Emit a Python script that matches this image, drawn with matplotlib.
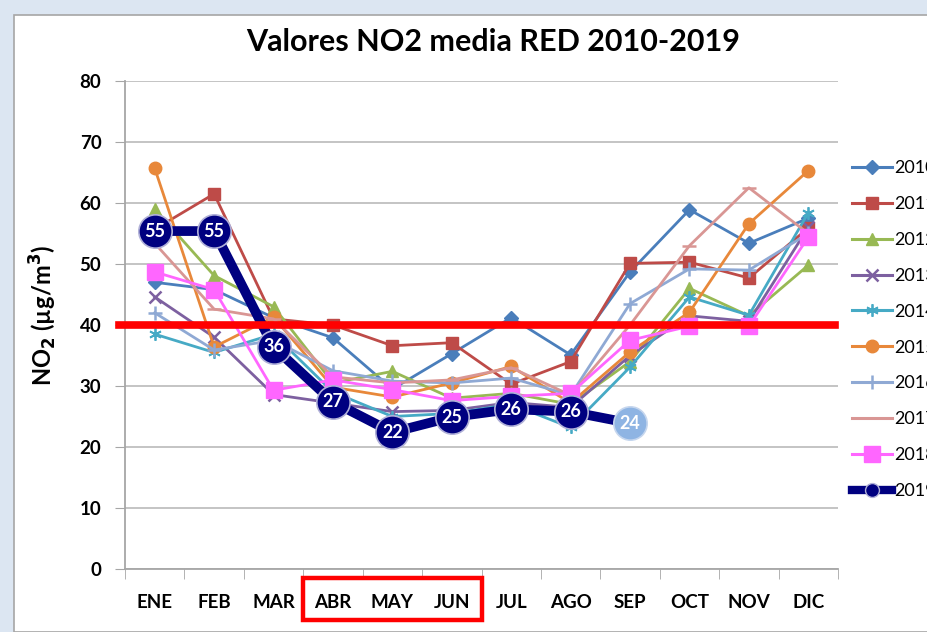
import matplotlib
matplotlib.use('Agg')
import matplotlib.pyplot as plt
from matplotlib.patches import Rectangle
from matplotlib.lines import Line2D

plt.rcParams['font.family'] = ['Lato', 'DejaVu Sans']

meses = ['ENE', 'FEB', 'MAR', 'ABR', 'MAY', 'JUN', 'JUL', 'AGO', 'SEP', 'OCT', 'NOV', 'DIC']

v2010 = [47.0, 45.8, 41.2, 37.9, 29.5, 35.3, 41.2, 35.1, 48.7, 58.9, 53.4, 57.5]
v2011 = [55.7, 61.5, 41.0, 40.0, 36.6, 37.1, 30.3, 34.0, 50.1, 50.3, 47.7, 55.9]
v2012 = [59.0, 48.1, 43.0, 30.5, 32.4, 28.0, 28.8, 27.0, 34.0, 46.0, 41.5, 49.8]
v2013 = [44.6, 38.0, 28.6, 27.2, 25.8, 26.0, 27.3, 26.5, 35.0, 41.5, 40.6, 56.0]
v2014 = [38.5, 35.5, 38.5, 29.0, 25.0, 25.5, 27.0, 23.2, 33.1, 44.6, 41.6, 58.4]
v2015 = [65.7, 36.4, 41.3, 29.8, 28.2, 30.5, 33.2, 27.2, 35.6, 42.1, 56.6, 65.3]
v2016 = [42.0, 35.9, 37.5, 32.5, 30.8, 30.5, 31.3, 28.5, 43.5, 49.2, 49.0, 55.0]
v2017 = [53.4, 42.6, 41.0, 31.5, 30.5, 31.0, 33.0, 28.5, 40.0, 53.0, 62.5, 55.0]
v2018 = [48.7, 45.8, 29.3, 31.0, 29.4, 27.6, 28.3, 28.8, 37.5, 39.8, 39.8, 54.4]
v2019 = [55.4, 55.4, 36.4, 27.4, 22.4, 24.9, 26.2, 25.8, 23.9]

limite = 40

# (label, values, color, marker, markersize)
series = [
    ('2010', v2010, '#4a7ebb', 'D', 7),
    ('2011', v2011, '#be4b48', 's', 9),
    ('2012', v2012, '#98b954', '^', 9),
    ('2013', v2013, '#7d60a0', 'x', 9),
    ('2014', v2014, '#46aac5', '*', 0),
    ('2015', v2015, '#e8883a', 'o', 9),
    ('2016', v2016, '#8fa9d4', '+', 10),
    ('2017', v2017, '#d99694', '_', 10),
    ('2018', v2018, '#ff66ff', 's', 12),
]

fig = plt.figure(figsize=(9.27, 6.32), dpi=100)
fig.patch.set_facecolor('#dce6f2')
fig.patches.append(Rectangle((14 / 927, 0), 1, 1 - 15 / 632, transform=fig.transFigure,
                             facecolor='white', edgecolor='#a6a6a6', linewidth=1.2, zorder=-10))

ax = fig.add_axes([125 / 927, 1 - 569 / 632, 713 / 927, 488 / 632])
ax.set_facecolor('none')

x = list(range(len(meses)))
handles = []
for label, vals, color, marker, ms in series:
    if marker == '*':
        ax.plot(x, vals, color=color, linewidth=2, marker=(6, 2, 0), markersize=9,
                markeredgewidth=1.3, zorder=3)
        h = Line2D([], [], color=color, linewidth=2.2, marker=(6, 2, 0), markersize=9, markeredgewidth=1.3)
    else:
        ax.plot(x, vals, color=color, linewidth=2, marker=marker, markersize=ms,
                markeredgewidth=1.8 if marker in ('x', '+', '_') else 1, zorder=3)
        h = Line2D([], [], color=color, linewidth=2.2, marker=marker, markersize=ms,
                   markeredgewidth=1.8 if marker in ('x', '+', '_') else 1)
    handles.append((h, label))

# 2019
x19 = x[:len(v2019)]
ax.plot(x19, v2019, color='#000080', linewidth=7, solid_capstyle='round', zorder=5)
ax.plot(x19[:-1], v2019[:-1], linestyle='none', marker='o', markersize=24,
        markerfacecolor='#000080', markeredgecolor='#b0b0d8', markeredgewidth=1.2, zorder=6)
ax.plot(x19[-1:], v2019[-1:], linestyle='none', marker='o', markersize=24,
        markerfacecolor='#8eb4e3', markeredgecolor='#c5d6ee', markeredgewidth=1.2, zorder=6)
for xi, v in zip(x19, v2019):
    ax.text(xi, v, '%d' % round(v), color='white', fontsize=13, fontweight='bold',
            ha='center', va='center', zorder=7)
handles.append((Line2D([], [], color='#000080', linewidth=6, marker='o', markersize=10,
                       markerfacecolor='#000080', markeredgecolor='#b0b0d8'), '2019'))

# 40 limit line
ax.plot([-0.6, 11.45], [limite, limite], color='#ff0000', linewidth=5.5, zorder=8, clip_on=False)

# red box around ABR-JUN
ax.add_patch(Rectangle((2.5, -8.4), 3.0, 6.9, fill=False, edgecolor='#ff0000',
                       linewidth=3.2, clip_on=False, zorder=8))

ax.set_xlim(-0.5, 11.5)
ax.set_ylim(0, 80)
ax.set_yticks(range(0, 81, 10))
ax.set_xticks(x)
ax.set_xticklabels(meses, fontsize=13.5, fontweight='bold')
ax.set_xticks([i - 0.5 for i in range(13)], minor=True)
ax.tick_params(axis='x', which='major', length=0, pad=18)
ax.tick_params(axis='x', which='minor', length=7, color='#a6a6a6', direction='out')
ax.tick_params(axis='y', length=7, color='#a6a6a6', pad=10, labelsize=13.5)
for t in ax.get_yticklabels():
    t.set_fontweight('bold')

ax.grid(axis='y', color='#bfbfbf', linewidth=1.3)
ax.set_axisbelow(True)
for s in ['top', 'right']:
    ax.spines[s].set_visible(False)
for s in ['left', 'bottom']:
    ax.spines[s].set_color('#a6a6a6')
    ax.spines[s].set_linewidth(1.3)

ax.set_ylabel('NO$_\\mathbf{2}$ (µg/m$^\\mathbf{3}$)', fontsize=17, fontweight='bold')
ax.yaxis.set_label_coords(-0.092, 0.52)

fig.text(493 / 927, 1 - 42 / 632, 'Valores NO2 media RED 2010-2019', fontsize=22,
         fontweight='bold', ha='center', va='center')

fig.legend([h for h, _ in handles], [l for _, l in handles], loc='upper left',
           bbox_to_anchor=(836 / 927, 1 - 144 / 632), frameon=False, fontsize=13,
           labelspacing=1.1, handlelength=2.2, handletextpad=0.1)

fig.savefig('out.png', dpi=100, facecolor=fig.get_facecolor())
